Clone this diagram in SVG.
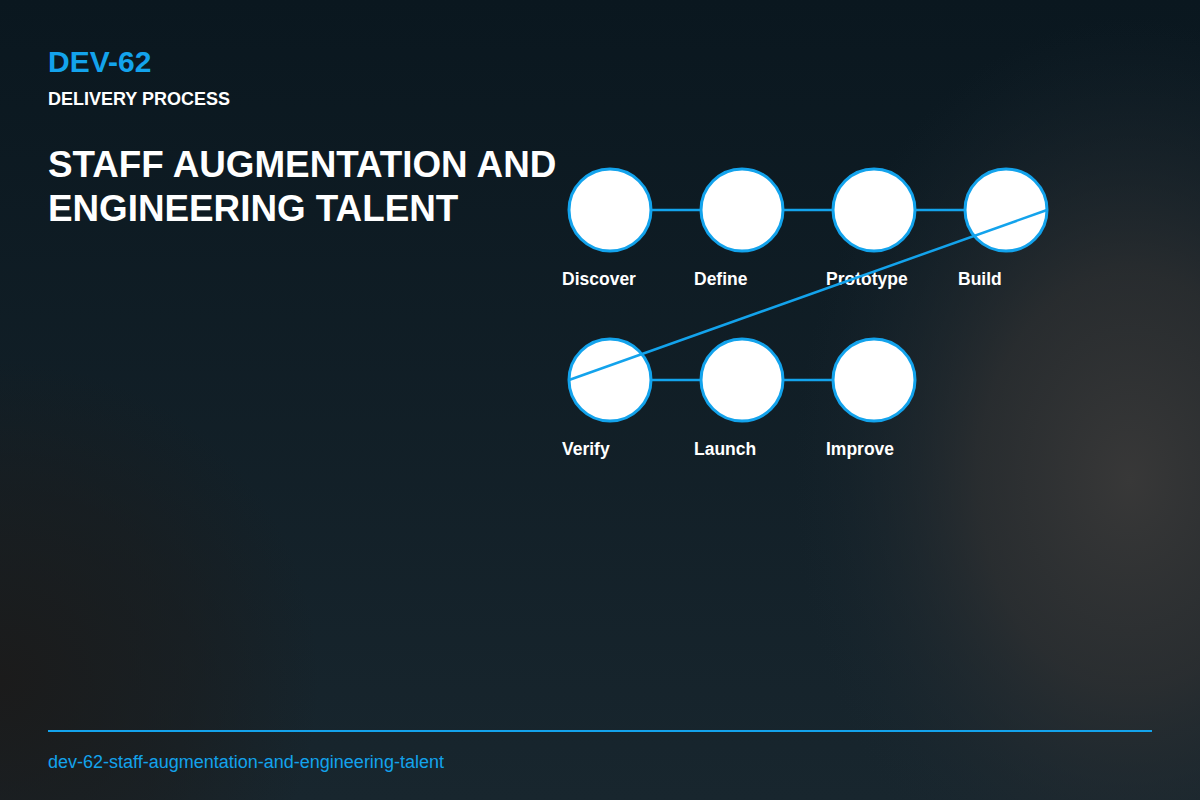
<svg xmlns="http://www.w3.org/2000/svg" width="1200" height="800" viewBox="0 0 1200 800">
<defs>
<linearGradient id="bg" x1="0" y1="0" x2="0" y2="1">
<stop offset="0" stop-color="#0a171f"/>
<stop offset="1" stop-color="#18262e"/>
</linearGradient>
<radialGradient id="glow" cx="1130" cy="480" r="420" gradientUnits="userSpaceOnUse" gradientTransform="translate(1130 480) scale(0.8 1.1) translate(-1130 -480)">
<stop offset="0" stop-color="#383838" stop-opacity="1"/>
<stop offset="0.45" stop-color="#303132" stop-opacity="0.75"/>
<stop offset="1" stop-color="#1a2730" stop-opacity="0"/>
</radialGradient>
<radialGradient id="corner" cx="0" cy="680" r="320" gradientUnits="userSpaceOnUse">
<stop offset="0" stop-color="#1b1b1b" stop-opacity="1"/>
<stop offset="0.6" stop-color="#1b1b1b" stop-opacity="0.5"/>
<stop offset="1" stop-color="#1b1b1b" stop-opacity="0"/>
</radialGradient>
<style>
.node circle{fill:#ffffff;stroke:#13a3ec;stroke-width:3}
.lbl{font-family:"Liberation Sans",Arial,sans-serif;font-weight:bold;font-size:17.5px;fill:#ffffff}
.conn line{stroke:#13a3ec;stroke-width:2.5}
</style>
</defs>
<rect width="1200" height="800" fill="url(#bg)"/>
<rect width="1200" height="800" fill="url(#glow)"/>
<rect width="1200" height="800" fill="url(#corner)"/>
<text x="48" y="72" font-family="Liberation Sans,Arial,sans-serif" font-weight="bold" font-size="30" fill="#13a3ec">DEV-62</text>
<text x="48" y="105" font-family="Liberation Sans,Arial,sans-serif" font-weight="bold" font-size="18" fill="#ffffff">DELIVERY PROCESS</text>
<text font-family="Liberation Sans,Arial,sans-serif" font-weight="bold" font-size="36.8" fill="#ffffff"><tspan x="48" y="177">STAFF AUGMENTATION AND</tspan><tspan x="48" y="221">ENGINEERING TALENT</tspan></text>
<g id="connectors-back" class="conn">
<line x1="610" y1="210" x2="742" y2="210"/>
<line x1="742" y1="210" x2="874" y2="210"/>
<line x1="874" y1="210" x2="1006" y2="210"/>
<line x1="610" y1="380" x2="742" y2="380"/>
<line x1="742" y1="380" x2="874" y2="380"/>
</g>
<g id="discover" class="node"><circle cx="610" cy="210" r="41"/><text class="lbl" x="562" y="285">Discover</text></g>
<g id="define" class="node"><circle cx="742" cy="210" r="41"/><text class="lbl" x="694" y="285">Define</text></g>
<g id="prototype" class="node"><circle cx="874" cy="210" r="41"/><text class="lbl" x="826" y="285">Prototype</text></g>
<g id="build" class="node"><circle cx="1006" cy="210" r="41"/><text class="lbl" x="958" y="285">Build</text></g>
<g id="verify" class="node"><circle cx="610" cy="380" r="41"/><text class="lbl" x="562" y="455">Verify</text></g>
<g id="launch" class="node"><circle cx="742" cy="380" r="41"/><text class="lbl" x="694" y="455">Launch</text></g>
<g id="improve" class="node"><circle cx="874" cy="380" r="41"/><text class="lbl" x="826" y="455">Improve</text></g>
<g id="connectors" class="conn">
<line x1="1047" y1="210" x2="569" y2="380" stroke-width="2"/>
</g>
<line x1="48" y1="731" x2="1152" y2="731" stroke="#13a3ec" stroke-width="2"/>
<text x="48" y="768" font-family="Liberation Sans,Arial,sans-serif" font-size="18" fill="#13a3ec">dev-62-staff-augmentation-and-engineering-talent</text>
</svg>
